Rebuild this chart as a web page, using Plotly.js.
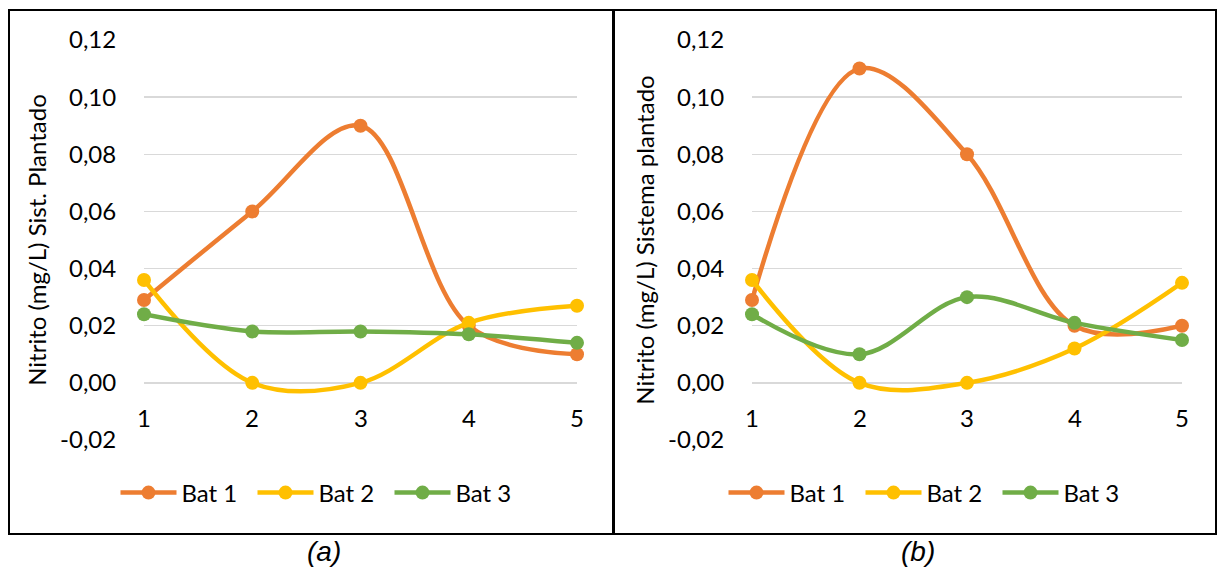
<!DOCTYPE html>
<html>
<head>
<meta charset="utf-8">
<script src="https://cdn.plot.ly/plotly-3.0.1.min.js"></script>
<style>html,body{margin:0;padding:0;background:#fff;}#chart{width:1217px;height:571px;}</style>
</head>
<body>
<div id="chart"></div>
<script>
// ---- data ----
const categories = [1, 2, 3, 4, 5];
const seriesNames = ["Bat 1", "Bat 2", "Bat 3"];
// panel (a) Sist. Plantado
const a_bat1 = [0.029, 0.060, 0.090, 0.020, 0.010];
const a_bat2 = [0.036, 0.000, 0.000, 0.021, 0.027];
const a_bat3 = [0.024, 0.018, 0.018, 0.017, 0.014];
// panel (b) Sistema plantado
const b_bat1 = [0.029, 0.110, 0.080, 0.020, 0.020];
const b_bat2 = [0.036, 0.000, 0.000, 0.012, 0.035];
const b_bat3 = [0.024, 0.010, 0.030, 0.021, 0.015];
const yTickVals = [-0.02, 0.00, 0.02, 0.04, 0.06, 0.08, 0.10, 0.12];
const yTickText = ["-0,02", "0,00", "0,02", "0,04", "0,06", "0,08", "0,10", "0,12"];
const yTitleA = "Nitrito (mg/L) Sist. Plantado";
const yTitleB = "Nitrito (mg/L) Sistema plantado";
const captions = ["(a)", "(b)"];

// ---- styling ----
const W = 1217, H = 571;
const colors = ["#ED7D31", "#FFC000", "#70AD47"];
const FONT = "Lato, 'Noto Sans', sans-serif";
const FS = 24;
const px = v => v / W;
const py = v => 1 - v / H;

function mk(ys, i, xa, ya, lg) {
  return {
    x: categories, y: ys, name: seriesNames[i], type: "scatter", mode: "lines+markers",
    xaxis: xa, yaxis: ya, legend: lg, cliponaxis: false,
    line: {color: colors[i], width: 4.5, shape: "spline", smoothing: 1},
    marker: {color: colors[i], size: 14}
  };
}
const traces = [
  mk(a_bat1, 0, "x", "y", "legend"),
  mk(a_bat2, 1, "x", "y", "legend"),
  mk(a_bat3, 2, "x", "y", "legend"),
  mk(b_bat1, 0, "x2", "y2", "legend2"),
  mk(b_bat2, 1, "x2", "y2", "legend2"),
  mk(b_bat3, 2, "x2", "y2", "legend2")
];

function yax(title, anchor) {
  return {
    domain: [py(440), py(40)], range: [-0.02, 0.12], anchor: anchor,
    tickvals: yTickVals, ticktext: yTickText,
    ticks: "outside", ticklen: 22, tickcolor: "rgba(0,0,0,0)",
    showgrid: true, gridcolor: "#D9D9D9", gridwidth: 1.3, zeroline: false, showline: false,
    tickfont: {family: FONT, size: FS, color: "#000"},
    title: {text: title, font: {family: FONT, size: FS, color: "#000"}, standoff: 6},
    fixedrange: true
  };
}
function xax(dom, anchor) {
  return {
    domain: dom, range: [1, 5], anchor: anchor, showgrid: false, zeroline: false,
    showline: false, showticklabels: false, ticks: "", fixedrange: true
  };
}

const annotations = [];
[["x", "y"], ["x2", "y2"]].forEach(([xr, yr]) => {
  categories.forEach(c => {
    annotations.push({x: c, y: -0.0122, xref: xr, yref: yr, text: String(c), showarrow: false,
      xanchor: "center", yanchor: "middle", font: {family: FONT, size: FS, color: "#000"}});
  });
});
const capFont = {family: "'Liberation Sans', Arial, sans-serif", size: 28, color: "#000"};
annotations.push({x: px(324), y: py(551), xref: "paper", yref: "paper", text: "<i>" + captions[0] + "</i>",
  showarrow: false, xanchor: "center", yanchor: "middle", font: capFont});
annotations.push({x: px(918), y: py(551), xref: "paper", yref: "paper", text: "<i>" + captions[1] + "</i>",
  showarrow: false, xanchor: "center", yanchor: "middle", font: capFont});

const legendBase = {
  orientation: "h", xanchor: "center", yanchor: "middle", y: py(493),
  font: {family: FONT, size: FS, color: "#000"}, bgcolor: "rgba(0,0,0,0)",
  itemclick: false, itemdoubleclick: false, tracegroupgap: 0,
  itemwidth: 56, entrywidth: 66
};

const layout = {
  width: W, height: H, margin: {l: 0, r: 0, t: 0, b: 0},
  paper_bgcolor: "#fff", plot_bgcolor: "rgba(0,0,0,0)",
  showlegend: true,
  xaxis: xax([px(144), px(577)], "y"),
  yaxis: yax(yTitleA, "x"),
  xaxis2: xax([px(752), px(1182)], "y2"),
  yaxis2: yax(yTitleB, "x2"),
  legend: Object.assign({}, legendBase, {x: px(321)}),
  legend2: Object.assign({}, legendBase, {x: px(929)}),
  annotations: annotations,
  shapes: [
    {type: "rect", xref: "paper", yref: "paper", x0: px(9), x1: px(613), y0: py(534), y1: py(10),
     line: {color: "#000", width: 2}, fillcolor: "rgba(0,0,0,0)"},
    {type: "rect", xref: "paper", yref: "paper", x0: px(614), x1: px(1216), y0: py(534), y1: py(10),
     line: {color: "#000", width: 2}, fillcolor: "rgba(0,0,0,0)"}
  ]
};

Plotly.newPlot("chart", traces, layout, {displayModeBar: false, staticPlot: true});
</script>
</body>
</html>
